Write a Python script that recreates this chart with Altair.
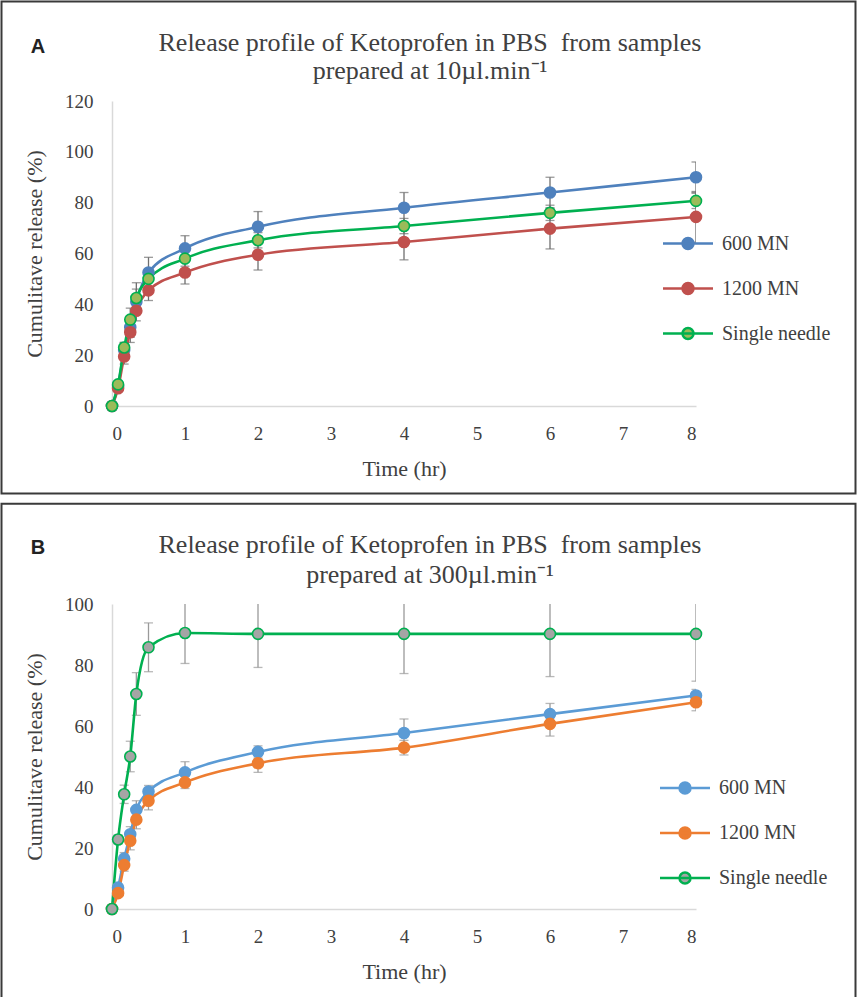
import altair as alt
import pandas as pd

# ---------------- data ----------------
times = [0, 1/12, 1/6, 0.25, 1/3, 0.5, 1, 2, 4, 6, 8]
series_names = ["600 MN", "1200 MN", "Single needle"]

a_600 = [0, 8, 22, 31, 41, 52.5, 62, 70.5, 78, 84, 90]
a_600_err = [0, 1, 3, 4, 5, 6, 5, 6, 6, 6, 6]
a_1200 = [0, 7, 19.5, 29, 37.5, 45.5, 52.5, 59.5, 64.5, 69.8, 74.4]
a_1200_err = [0, 1, 3, 4, 4, 4, 4.5, 6, 7, 8, 10]
a_single = [0, 8.5, 23, 34, 42.5, 50, 58, 65.2, 70.8, 76, 80.7]
a_single_err = [0, 1, 2, 4.5, 6, 3, 3, 3, 3, 3, 3]

b_600 = [0, 7, 16.5, 24.5, 32.5, 38.5, 44.8, 51.5, 57.7, 63.9, 70]
b_600_err = [0, 1, 2, 2.5, 3, 2, 3.5, 2, 4.6, 3.5, 2]
b_1200 = [0, 5.2, 14.4, 22.4, 29.3, 35.5, 41.5, 47.8, 52.9, 60.7, 67.8]
b_1200_err = [0, 1, 2, 3, 3, 3, 2, 3, 2.4, 4, 2.8]
b_single = [0, 22.8, 37.6, 50, 70.5, 85.8, 90.5, 90.2, 90.2, 90.2, 90.2]
b_single_err = [0, 1.5, 3, 5, 7, 8, 10, 11, 13, 14, 15.5]

x_ticks = [0, 1, 2, 3, 4, 5, 6, 7, 8]
title_line1 = "Release profile of Ketoprofen in PBS\u00a0 from samples"
title_a2 = "prepared at 10\u00b5l.min\u207b\u00b9"
title_b2 = "prepared at 300\u00b5l.min\u207b\u00b9"

SERIF = "Liberation Serif, Times New Roman, serif"
SANS = "Liberation Sans, Arial, sans-serif"
TXT = "#404040"
SYM = "M-5,0H5M-1.1,0A1.1,1.1 0 1 0 1.1,0A1.1,1.1 0 1 0 -1.1,0"

W, H = 584, 305


def panel(vals, errs, ymax, line_colors, fill_colors, err_color, title2, letter,
          frame_y, frame_y2, t1_y, t2_y, letter_y, leg_x, leg_y):
    rows = []
    for s, v, e in zip(series_names, vals, errs):
        for t, vi, ei in zip(times, v, e):
            rows.append({"time": t, "value": vi, "lo": vi - ei, "hi": vi + ei, "series": s})
    df = pd.DataFrame(rows)

    common = dict(labelFont=SERIF, labelFontSize=19, labelColor=TXT,
                  titleFont=SERIF, titleFontSize=22, titleFontWeight="normal",
                  titleColor=TXT, domainColor="#D9D9D9", domainWidth=1.5,
                  ticks=False, tickSize=0, grid=False)
    x_axis = alt.Axis(values=x_ticks, title="Time (hr)", labelPadding=18,
                      titleY=62, titleBaseline="middle", **common)
    y_axis = alt.Axis(values=list(range(0, ymax + 1, 20)), title="Cumulitave release (%)",
                      labelPadding=19, titleX=-78, titleY=H / 2, titleBaseline="middle",
                      titleAngle=270, **common)
    xs = alt.Scale(domain=[0, 8], nice=False)
    ys = alt.Scale(domain=[0, ymax], nice=False)

    legend = alt.Legend(title=None, orient="none", legendX=leg_x, legendY=leg_y,
                        symbolType=SYM, symbolSize=100, symbolStrokeWidth=2.5,
                        labelFont=SERIF, labelFontSize=20, labelColor=TXT,
                        labelOffset=24, rowPadding=23, padding=0)
    stroke = alt.Stroke("series:N", scale=alt.Scale(domain=series_names, range=line_colors),
                        legend=legend)
    fill = alt.Fill("series:N", scale=alt.Scale(domain=series_names, range=fill_colors),
                    legend=legend)

    base = alt.Chart(df)
    X = alt.X("time:Q", scale=xs, axis=x_axis)
    rules = base.mark_rule(color=err_color, strokeWidth=1.3, clip=True).encode(
        x=X, y=alt.Y("lo:Q", scale=ys, axis=y_axis), y2="hi:Q")
    cap_hi = base.mark_tick(color=err_color, orient="horizontal", size=9, thickness=1.3,
                            clip=True).encode(x=X, y=alt.Y("hi:Q", scale=ys, axis=y_axis))
    cap_lo = base.mark_tick(color=err_color, orient="horizontal", size=9, thickness=1.3,
                            clip=True).encode(x=X, y=alt.Y("lo:Q", scale=ys, axis=y_axis))
    lines = base.mark_line(interpolate="monotone", strokeWidth=2.6).encode(
        x=X, y=alt.Y("value:Q", scale=ys, axis=y_axis), stroke=stroke, detail="series:N")
    pts = base.mark_circle(size=121, strokeWidth=1.6, opacity=1).encode(
        x=X, y=alt.Y("value:Q", scale=ys, axis=y_axis), fill=fill, stroke=stroke)

    one = alt.Chart(pd.DataFrame({"k": [0]}))
    frame = one.mark_rect(fillOpacity=0, stroke="#3a3a3a", strokeWidth=2).encode(
        x=alt.value(-110.5), x2=alt.value(743.5), y=alt.value(frame_y), y2=alt.value(frame_y2))
    t1 = one.mark_text(text=title_line1, font=SERIF, fontSize=26, color=TXT,
                       align="center", baseline="middle").encode(
        x=alt.value(318), y=alt.value(t1_y))
    t2 = one.mark_text(text=title2, font=SERIF, fontSize=26, color=TXT,
                       align="center", baseline="middle").encode(
        x=alt.value(318), y=alt.value(t2_y))
    let = one.mark_text(text=letter, font=SANS, fontSize=20, fontWeight="bold", color="#222222",
                        align="center", baseline="middle").encode(
        x=alt.value(-74), y=alt.value(letter_y))

    return alt.layer(frame, rules, cap_hi, cap_lo, lines, pts, t1, t2, let).properties(
        width=W, height=H)


chart_a = panel([a_600, a_1200, a_single], [a_600_err, a_1200_err, a_single_err], 120,
                ["#4F81BD", "#C0504D", "#00B050"], ["#4F81BD", "#C0504D", "#9BBB59"],
                "#6f6f6f", title_a2, "A", -99.5, 392.5, -58.5, -30.5, -54.5, 566, 132.5)
chart_b = panel([b_600, b_1200, b_single], [b_600_err, b_1200_err, b_single_err], 100,
                ["#5B9BD5", "#ED7D31", "#00B050"], ["#5B9BD5", "#ED7D31", "#A5A5A5"],
                "#9a9a9a", title_b2, "B", -100.2, 394.3, -58.7, -28.7, -55.7, 563, 174)

chart = alt.vconcat(chart_a, chart_b, spacing=7).resolve_scale(
    stroke="independent", fill="independent").resolve_legend(
    stroke="independent", fill="independent").properties(
    padding=0, background="white").configure_view(stroke="transparent")

chart.save("out.html", embed_options={"renderer": "svg", "actions": False})
